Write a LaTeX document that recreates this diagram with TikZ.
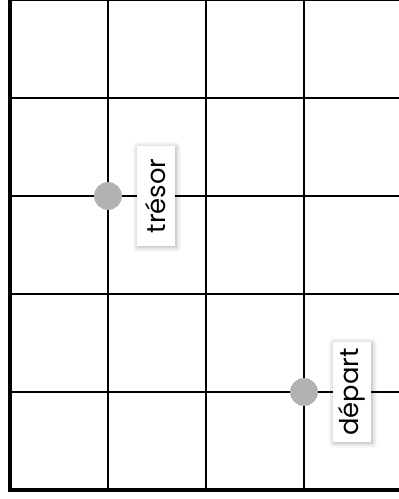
\documentclass[tikz,border=0pt]{standalone}
\usepackage{fontspec}
\setmainfont{Poppins}
\usepackage{graphicx}
\usetikzlibrary{positioning, shadows.blur}
\definecolor{pointgray}{RGB}{178, 178, 180}

\begin{document}
\begin{tikzpicture}[
    gridline/.style = {black, line width=0.9pt},
    axisline/.style = {black, line width=1.8pt},
    pointdot/.style = {circle, fill=pointgray, minimum size=0.57cm, inner sep=0pt},
    tag/.style      = {
        rectangle, fill=white, inner sep=0pt,
        minimum width=0.78cm, minimum height=2.04cm,
        font=\fontsize{15}{17}\selectfont,
        blur shadow={shadow xshift=0.6pt, shadow yshift=-0.6pt,
                     shadow blur radius=3pt, shadow opacity=35}
    },
]
\useasboundingbox (-0.204,-0.184) rectangle (7.939,10.0);
\clip (-0.204,-0.184) rectangle (7.939,10.0);

% --- Quadrillage ---
\foreach \i in {1,...,4} {
    \draw[gridline] (2*\i,0) -- (2*\i,10.5);
}
\foreach \j in {1,...,5} {
    \draw[gridline] (0,2*\j) -- (8.5,2*\j);
}
\draw[axisline] (0,10.5) -- (0,0) -- (8.5,0);

% --- Points ---
\node[pointdot] (tresor) at (2,6) {};
\node[pointdot] (depart) at (6,2) {};

% --- Etiquettes ---
\node[tag, right=0.29cm of tresor] (tresortag) {\rotatebox{90}{trésor}};
\node[tag, right=0.29cm of depart] (departtag) {\rotatebox{90}{départ}};

\end{tikzpicture}
\end{document}
